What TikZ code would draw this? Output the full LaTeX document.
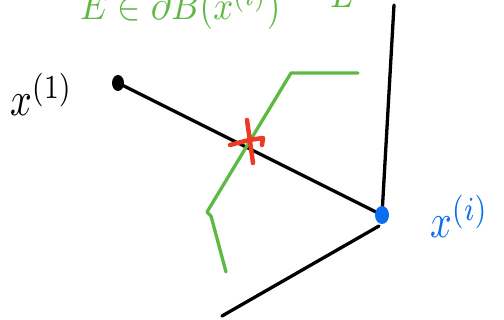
\documentclass[tikz,border=0pt]{standalone}
\usepackage{graphicx}
\usepackage{xcolor}
\definecolor{hgreen}{HTML}{5DB944}
\definecolor{hblue}{HTML}{0A6EF0}
\definecolor{hred}{HTML}{EE3A24}
\newcommand{\bigtxt}[1]{\scalebox{3.8}[4.8]{#1}}
\newcommand{\toptxt}[1]{\scalebox{3.5}[4]{#1}}
\begin{document}
\begin{tikzpicture}[x=1pt,y=-1pt,
  ink/.style={line width=3.3pt,line cap=round,line join=round},
  blackink/.style={ink,black},
  greenink/.style={ink,hgreen},
  redink/.style={line width=4.5pt,line cap=round,line join=round,hred},
  lbl/.style={inner sep=0pt}]
\useasboundingbox (0,0) rectangle (504,320);
\clip (0,0) rectangle (504,320);
% nodes
\coordinate (p1) at (118,83);
\coordinate (pi) at (382,215);
\coordinate (top) at (394,5);
\coordinate (bot) at (222,316);
\coordinate (g1) at (358,73);
\coordinate (g2) at (291,73);
\coordinate (g3) at (207,212);
\coordinate (g4) at (211,216);
\coordinate (g5) at (226,272);
% connectors
\draw[blackink] (p1) -- (pi);
\draw[blackink] (pi) -- (top);
\draw[blackink] ([shift={(-3,11)}]pi) -- (bot);
\draw[greenink] (g1) -- (g2) -- (g3) -- (g4) -- (g5);
% dots
\fill[black] (p1) ellipse (6 and 8);
\fill[hblue] (pi) ellipse (7 and 9);
% red cross
\draw[redink] (247,120) -- (253,163);
\draw[redink] (230,145) -- (249,140) -- (263,138) -- (262,145);
% labels
\node[lbl,anchor=base west] (l1) at (10,116) {\bigtxt{$x^{(1)}$}};
\node[lbl,anchor=base west,text=hblue] (li) at (430,238) {\bigtxt{$x^{(i)}$}};
\node[lbl,anchor=base west,text=hgreen] (top1) at (80,20) {\toptxt{$E\in\partial B(x^{(i)})$}};
\node[lbl,anchor=base west,text=hgreen] (top2) at (330,8) {\toptxt{$L$}};
\end{tikzpicture}
\end{document}
